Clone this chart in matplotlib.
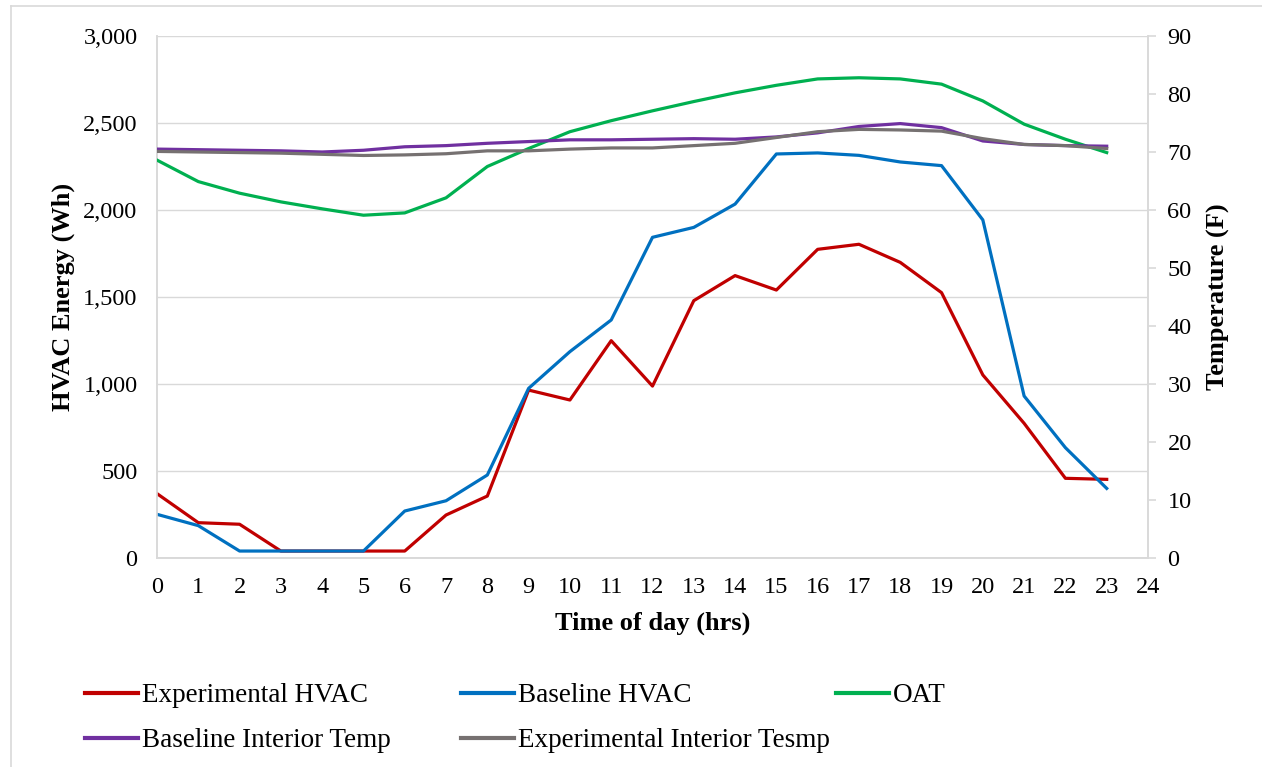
import matplotlib
matplotlib.use("Agg")
import matplotlib.pyplot as plt
from matplotlib.lines import Line2D

plt.rcParams['font.family'] = ['Liberation Serif', 'DejaVu Serif']

hours = list(range(24))
exp_hvac = [370, 203, 194, 40, 40, 40, 40, 247, 356, 965, 908, 1249, 988, 1479,
            1623, 1540, 1774, 1803, 1699, 1525, 1052, 774, 458, 452]
base_hvac = [251, 186, 40, 40, 40, 40, 270, 329, 477, 975, 1186, 1368, 1843, 1900,
             2034, 2322, 2328, 2314, 2276, 2255, 1943, 931, 634, 400]
oat = [68.6, 64.9, 62.9, 61.4, 60.2, 59.1, 59.5, 62.1, 67.5, 70.6, 73.5, 75.4,
       77.1, 78.7, 80.2, 81.5, 82.6, 82.8, 82.6, 81.7, 78.8, 74.8, 72.2, 69.9]
base_int = [70.5, 70.4, 70.3, 70.2, 70.0, 70.3, 70.9, 71.1, 71.5, 71.8, 72.1, 72.1,
            72.2, 72.3, 72.2, 72.6, 73.3, 74.4, 74.9, 74.2, 71.9, 71.3, 71.1, 71.0]
exp_int = [70.1, 70.0, 69.9, 69.8, 69.6, 69.4, 69.5, 69.7, 70.2, 70.2, 70.5, 70.7,
           70.7, 71.1, 71.5, 72.5, 73.5, 73.9, 73.8, 73.6, 72.3, 71.3, 71.1, 70.6]

labels = ["Experimental HVAC", "Baseline HVAC", "OAT",
          "Baseline Interior Temp", "Experimental Interior Tesmp"]
colors = ["#C00000", "#0070C0", "#00B050", "#7030A0", "#767171"]

W, H = 1262, 767
fig = plt.figure(figsize=(W / 100, H / 100), dpi=100)
ax = fig.add_axes([157 / W, 1 - 558 / H, (1148 - 157) / W, (558 - 36) / H])
ax2 = ax.twinx()

lw = 2.3
l1, = ax.plot(hours, exp_hvac, color=colors[0], lw=lw, zorder=3)
l2, = ax.plot(hours, base_hvac, color=colors[1], lw=lw, zorder=4)
l3, = ax2.plot(hours, oat, color=colors[2], lw=lw, zorder=3)
l4, = ax2.plot(hours, base_int, color=colors[3], lw=lw, zorder=4)
l5, = ax2.plot(hours, exp_int, color=colors[4], lw=lw, zorder=5)

ax.set_xlim(0, 24)
ax.set_ylim(0, 3000)
ax2.set_ylim(0, 90)
ax.set_xticks(range(25))
ax.set_yticks(range(0, 3001, 500))
ax.set_yticklabels([f"{v:,}" for v in range(0, 3001, 500)])
ax2.set_yticks(range(0, 91, 10))

grid_c = "#D9D9D9"
ax.grid(axis='y', color=grid_c, lw=1.0)
ax.set_axisbelow(True)
for a in (ax, ax2):
    for s in a.spines.values():
        s.set_color(grid_c)
        s.set_linewidth(1.2)
    a.spines['top'].set_visible(False)
tick_fs = 17.5
ax.tick_params(axis='y', length=0, labelsize=tick_fs, pad=14)
ax.tick_params(axis='x', length=0, labelsize=tick_fs, pad=14)
ax2.tick_params(axis='y', length=6, width=1.2, color=grid_c, labelsize=tick_fs, pad=8)

ax.set_xlabel("Time of day (hrs)", fontsize=19, fontweight='bold', labelpad=9.5)
ax.set_ylabel("HVAC Energy (Wh)", fontsize=19, fontweight='bold', labelpad=5.5)
ax2.set_ylabel("Temperature (F)", fontsize=19, fontweight='bold', labelpad=11)

# legend in three columns
handles = [l1, l2, l3, l4, l5]
cols = [([0, 3], 85), ([1, 4], 461), ([2], 836)]
for idx, xpx in cols:
    leg = fig.legend([handles[i] for i in idx], [labels[i] for i in idx],
                     loc='upper left', bbox_to_anchor=(xpx / W, 1 - 683 / H),
                     frameon=False, fontsize=19.5, handlelength=1.96,
                     handletextpad=0.15, borderpad=0, borderaxespad=0,
                     labelspacing=0.75)
    for lh in leg.get_lines():
        lh.set_linewidth(3)

# chart area border (left and top visible)
fig.add_artist(Line2D([11 / W, 11 / W], [0, 1 - 6 / H], color="#D9D9D9", lw=1.2,
                      transform=fig.transFigure))
fig.add_artist(Line2D([11 / W, 1], [1 - 6 / H, 1 - 6 / H], color="#D9D9D9", lw=1.2,
                      transform=fig.transFigure))

fig.savefig("out.png", dpi=100)
